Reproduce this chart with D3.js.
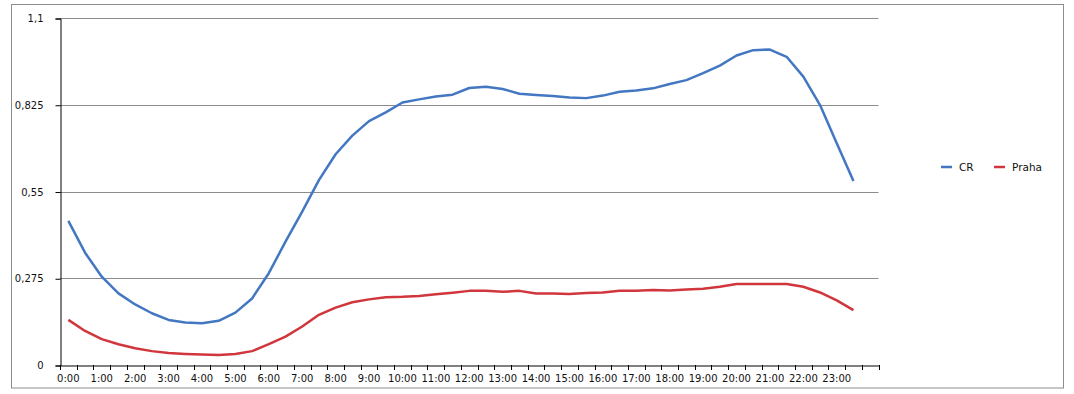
<!DOCTYPE html>
<html>
<head>
<meta charset="utf-8">
<script src="https://cdn.jsdelivr.net/npm/d3@7/dist/d3.min.js"></script>
<style>
  body { margin: 0; background: #fff; }
  svg text { font-family: "DejaVu Sans", sans-serif; fill: #111; }
</style>
</head>
<body>
<svg id="chart" width="1074" height="394"></svg>
<script>
const times = ['0:00','0:30','1:00','1:30','2:00','2:30','3:00','3:30','4:00','4:30',
  '5:00','5:30','6:00','6:30','7:00','7:30','8:00','8:30','9:00','9:30',
  '10:00','10:30','11:00','11:30','12:00','12:30','13:00','13:30','14:00','14:30',
  '15:00','15:30','16:00','16:30','17:00','17:30','18:00','18:30','19:00','19:30',
  '20:00','20:30','21:00','21:30','22:00','22:30','23:00','23:30','']

const cr = [0.457,0.356,0.280,0.227,0.192,0.164,0.143,0.135,0.132,0.140,
  0.166,0.211,0.291,0.391,0.486,0.586,0.668,0.727,0.773,0.801,
  0.832,0.842,0.851,0.857,0.878,0.882,0.875,0.860,0.856,0.853,
  0.848,0.846,0.854,0.866,0.870,0.877,0.891,0.903,0.925,0.949,
  0.981,0.998,1.000,0.977,0.914,0.824,0.703,0.583]

const praha = [0.143,0.108,0.082,0.066,0.053,0.044,0.038,0.035,0.033,0.032,
  0.035,0.044,0.066,0.090,0.122,0.159,0.182,0.199,0.208,0.215,
  0.216,0.219,0.224,0.229,0.235,0.235,0.232,0.235,0.227,0.227,
  0.225,0.228,0.230,0.235,0.235,0.238,0.236,0.239,0.242,0.248,
  0.257,0.257,0.257,0.257,0.248,0.230,0.205,0.174]

const yTicks = [0, 0.275, 0.55, 0.825, 1.1]

const series = [
  {name: 'CR', values: cr, color: '#4377c2'},
  {name: 'Praha', values: praha, color: '#d0363b'}
]

let svg = d3.select('#chart'),
    plotLeft = 60, plotRight = 878.5, plotTop = 18, plotBottom = 365

// outer frame
svg.append('rect')
  .attr('x', 11.5).attr('y', 4.5)
  .attr('width', 1052).attr('height', 383.5)
  .attr('fill', 'none').attr('stroke', '#8c8c8c')

let x = d3.scaleBand()
  .domain(times.map((d, i) => i))
  .range([plotLeft, plotRight])
  .padding(0)

let y = d3.scaleLinear()
  .domain([0, 1.1])
  .range([plotBottom, plotTop])

// gridlines
svg.append('g')
  .selectAll('line')
  .data(yTicks.filter(d => d > 0))
  .enter().append('line')
  .attr('x1', plotLeft).attr('x2', plotRight)
  .attr('y1', d => Math.round(y(d)) + 0.5)
  .attr('y2', d => Math.round(y(d)) + 0.5)
  .attr('stroke', '#8c8c8c')

// y axis
let yAxis = d3.axisLeft(y)
  .tickValues(yTicks)
  .tickSize(5)
  .tickPadding(12)
  .tickFormat(d => String(d).replace('.', ','))

svg.append('g')
  .attr('transform', 'translate(' + (plotLeft + 0.5) + ',0.5)')
  .call(yAxis)
  .call(g => g.selectAll('path,line').attr('stroke', '#000'))
  .call(g => g.selectAll('text').style('font-size', '10px'))

// x axis labels (every hour)
let xAxis = d3.axisBottom(x)
  .tickSize(0)
  .tickPadding(9)
  .tickFormat(i => i % 2 === 0 ? times[i] : '')

svg.append('g')
  .attr('transform', 'translate(0,' + (plotBottom + 0.5) + ')')
  .call(xAxis)
  .call(g => g.select('.domain').attr('stroke', '#000'))
  .call(g => g.selectAll('text').style('font-size', '10px'))

// x boundary ticks
let edges = times.map((d, i) => x(i)).concat([plotRight])
svg.append('g')
  .selectAll('line')
  .data(edges)
  .enter().append('line')
  .attr('x1', d => Math.round(d) + 0.5).attr('x2', d => Math.round(d) + 0.5)
  .attr('y1', plotBottom).attr('y2', plotBottom + 5)
  .attr('stroke', '#000')

// lines
let line = d3.line()
  .x((d, i) => x(i) + x.bandwidth() / 2)
  .y(d => y(d))

svg.append('g')
  .selectAll('path')
  .data(series)
  .enter().append('path')
  .attr('d', d => line(d.values))
  .attr('fill', 'none')
  .attr('stroke', d => d.color)
  .attr('stroke-width', 2.5)
  .attr('stroke-linejoin', 'round')

// legend
let legendX = [941, 994]
let legend = svg.append('g')
  .selectAll('g')
  .data(series)
  .enter().append('g')
  .attr('transform', (d, i) => 'translate(' + legendX[i] + ',167)')

legend.append('line')
  .attr('x1', 0).attr('x2', 11)
  .attr('stroke', d => d.color)
  .attr('stroke-width', 2.5)

legend.append('text')
  .attr('x', 18).attr('y', 4)
  .style('font-size', '10.5px')
  .text(d => d.name)
</script>
</body>
</html>
